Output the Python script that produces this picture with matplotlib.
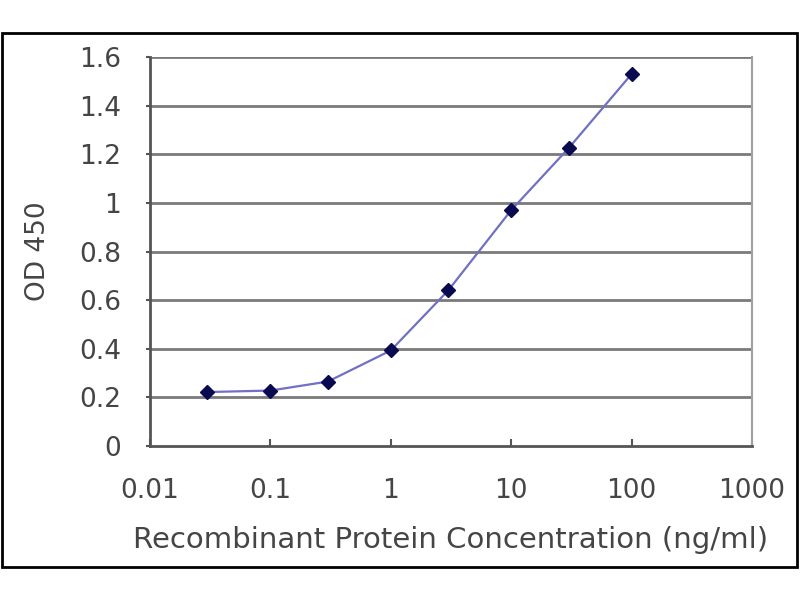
import matplotlib
matplotlib.use('Agg')
import matplotlib.pyplot as plt
from matplotlib.patches import Rectangle

# ELISA standard curve
conc = [0.03, 0.1, 0.3, 1, 3, 10, 30, 100]
od450 = [0.222, 0.228, 0.265, 0.393, 0.640, 0.970, 1.225, 1.530]
x_ticks = [0.01, 0.1, 1, 10, 100, 1000]
x_tick_labels = ['0.01', '0.1', '1', '10', '100', '1000']
y_ticks = [0, 0.2, 0.4, 0.6, 0.8, 1.0, 1.2, 1.4, 1.6]
y_tick_labels = ['0', '0.2', '0.4', '0.6', '0.8', '1', '1.2', '1.4', '1.6']

plt.rcParams['font.family'] = ['DejaVu Sans']
text_col = '#454545'

fig = plt.figure(figsize=(8, 6), dpi=100)
ax = fig.add_axes([150 / 800, 1 - 446 / 600, 602 / 800, 389 / 600])

ax.set_xscale('log')
ax.set_xlim(0.01, 1000)
ax.set_ylim(0, 1.6)

for y in y_ticks[1:]:
    ax.axhline(y, color='#7a7a7a', linewidth=2, zorder=1)

ax.plot(conc, od450, color='#7070c4', linewidth=1.6, zorder=2)
ax.plot(conc, od450, linestyle='none', marker='D', markersize=7,
        color='#0a0a50', zorder=3)

ax.set_xticks(x_ticks)
ax.set_xticklabels(x_tick_labels)
ax.minorticks_off()
ax.set_yticks(y_ticks)
ax.set_yticklabels(y_tick_labels)
ax.tick_params(axis='x', direction='in', length=5, width=1.5, color='#555555',
               pad=23, labelsize=19, labelcolor=text_col)
ax.tick_params(axis='y', direction='out', length=3, width=1.5, color='#555555',
               pad=18, labelsize=19, labelcolor=text_col)

for side in ['left', 'bottom']:
    ax.spines[side].set_color('#555555')
    ax.spines[side].set_linewidth(2)
ax.spines['right'].set_color('#a0a0a0')
ax.spines['right'].set_linewidth(1.5)
ax.spines['top'].set_visible(False)

ax.set_xlabel('Recombinant Protein Concentration (ng/ml)', fontsize=21,
              color=text_col, labelpad=16)
ax.set_ylabel('OD 450', fontsize=19, color=text_col, labelpad=20)

# outer black frame around the whole chart
fig.patches.append(Rectangle((2 / 800, 1 - 567 / 600), 795 / 800, 534 / 600,
                             transform=fig.transFigure, fill=False,
                             edgecolor='black', linewidth=2))

fig.savefig('out.png', dpi=100)
